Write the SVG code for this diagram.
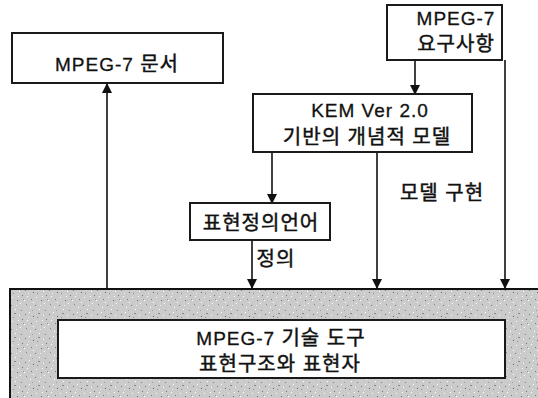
<svg xmlns="http://www.w3.org/2000/svg" width="538" height="398" viewBox="0 0 538 398">
<defs>
  <style>
    .box{fill:#fff;stroke:#1a1a1a;stroke-width:2}
    text{font-family:"Liberation Sans","Noto Sans CJK KR",sans-serif;font-size:19px;fill:#111;stroke:#111;stroke-width:0.3;text-anchor:middle;letter-spacing:1px}
    .k{font-size:20px;stroke-width:0.45}
    .ln{stroke:#111;stroke-width:1.6;fill:none}
  </style>
  <marker id="ah" markerWidth="10" markerHeight="12" refX="9" refY="5" orient="auto" markerUnits="userSpaceOnUse" viewBox="0 0 10 10">
    <path d="M0,0 L10,5 L0,10 Z" fill="#111"/>
  </marker>
  <pattern id="stip" width="24" height="24" patternUnits="userSpaceOnUse">
    <rect width="24" height="24" fill="#cbcbcb"/>
    <rect x="1" y="2" width="1" height="1" fill="#777"/>
    <rect x="5" y="0" width="1" height="1" fill="#fff"/>
    <rect x="9" y="4" width="1" height="1" fill="#666"/>
    <rect x="14" y="1" width="2" height="1" fill="#888"/>
    <rect x="19" y="3" width="1" height="1" fill="#fff"/>
    <rect x="22" y="7" width="1" height="1" fill="#707070"/>
    <rect x="3" y="8" width="1" height="1" fill="#fff"/>
    <rect x="7" y="11" width="1" height="1" fill="#7a7a7a"/>
    <rect x="12" y="9" width="1" height="1" fill="#fff"/>
    <rect x="17" y="12" width="1" height="1" fill="#666"/>
    <rect x="20" y="15" width="1" height="1" fill="#fff"/>
    <rect x="2" y="16" width="1" height="1" fill="#888"/>
    <rect x="6" y="19" width="1" height="1" fill="#fff"/>
    <rect x="11" y="17" width="1" height="1" fill="#777"/>
    <rect x="15" y="21" width="1" height="1" fill="#fff"/>
    <rect x="21" y="22" width="1" height="1" fill="#7f7f7f"/>
    <rect x="9" y="14" width="1" height="1" fill="#fff"/>
    <rect x="0" y="12" width="1" height="1" fill="#fff"/>
    <rect x="13" y="5" width="1" height="1" fill="#909090"/>
    <rect x="18" y="8" width="1" height="1" fill="#fff"/>
    <rect x="4" y="5" width="1" height="1" fill="#eee"/>
    <rect x="16" y="17" width="1" height="1" fill="#eee"/>
    <rect x="23" y="11" width="1" height="1" fill="#999"/>
    <rect x="8" y="22" width="1" height="1" fill="#999"/>
  </pattern>
</defs>
<rect width="538" height="398" fill="#fff"/>

<g id="tool-area">
  <rect x="10" y="289" width="530" height="112" fill="url(#stip)" stroke="#111" stroke-width="2"/>
</g>

<g id="connectors">
  <line class="ln" x1="107" y1="289" x2="107" y2="84" marker-end="url(#ah)"/>
  <line class="ln" x1="415" y1="60" x2="415" y2="94" marker-end="url(#ah)"/>
  <line class="ln" x1="272" y1="152" x2="272" y2="203" marker-end="url(#ah)"/>
  <line class="ln" x1="252" y1="240" x2="252" y2="288" marker-end="url(#ah)"/>
  <line class="ln" x1="377" y1="152" x2="377" y2="288" marker-end="url(#ah)"/>
  <line class="ln" x1="505" y1="60" x2="505" y2="288" marker-end="url(#ah)"/>
  <text class="k" x="276" y="266">정의</text>
  <text class="k" x="442" y="200" letter-spacing="0">모델 구현</text>
</g>

<g id="doc">
  <rect class="box" x="12" y="33" width="211" height="50"/>
  <text x="117" y="71">MPEG-7 <tspan class="k">문서</tspan></text>
</g>

<g id="req">
  <rect class="box" x="387" y="5" width="115" height="55"/>
  <text x="456" y="25">MPEG-7</text>
  <text class="k" x="456" y="51" letter-spacing="1">요구사항</text>
</g>

<g id="kem">
  <rect class="box" x="253" y="94" width="219" height="58"/>
  <text x="370" y="117">KEM Ver 2.0</text>
  <text class="k" x="367" y="144" letter-spacing="3">기반의 개념적 모델</text>
</g>

<g id="ddl">
  <rect class="box" x="190" y="203" width="140" height="37"/>
  <text class="k" x="261" y="230" letter-spacing="0">표현정의언어</text>
</g>

<g id="tools">
  <rect class="box" x="58" y="320" width="447" height="58"/>
  <text x="281" y="345" letter-spacing="1.5">MPEG-7 <tspan class="k">기술 도구</tspan></text>
  <text class="k" x="280" y="371" letter-spacing="2">표현구조와 표현자</text>
</g>
</svg>
